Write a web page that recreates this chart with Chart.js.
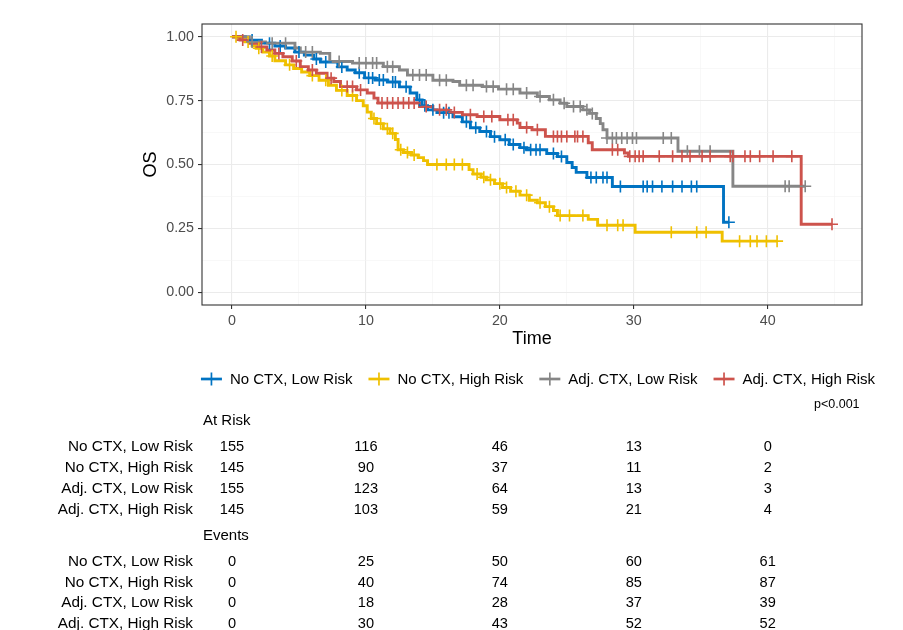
<!DOCTYPE html>
<html><head><meta charset="utf-8">
<script src="https://cdn.jsdelivr.net/npm/chart.js@4.4.1/dist/chart.umd.min.js"></script>
<style>html,body{margin:0;padding:0;background:#fff;}#wrap{width:903px;height:630px;}</style>
</head><body><div id="wrap"><canvas id="c" width="903" height="630"></canvas></div>
<script>
const FONT = '"Liberation Sans", Arial, Helvetica, sans-serif';

const groupNames = ['No CTX, Low Risk', 'No CTX, High Risk', 'Adj. CTX, Low Risk', 'Adj. CTX, High Risk'];
const groupColors = ['#0073C2', '#EFC000', '#868686', '#CD534C'];

// Kaplan-Meier step data (event times and survival after each step)
const timesNoCtxLow = [0, 1.0, 2.2, 3.2, 4.0, 4.7, 5.4, 6.1, 6.6, 7.9, 8.6, 9.2, 9.9, 10.7, 11.6, 12.5, 13.3, 13.8, 14.2, 14.6, 15.3, 16.5, 17.2, 17.8, 18.5, 19.3, 20.0, 20.7, 21.5, 22.0, 23.5, 24.3, 25.0, 25.4, 25.7, 26.5, 28.4, 36.7];
const survNoCtxLow  = [1, 0.987, 0.975, 0.964, 0.956, 0.94, 0.928, 0.913, 0.901, 0.882, 0.87, 0.859, 0.839, 0.831, 0.823, 0.804, 0.78, 0.753, 0.73, 0.714, 0.703, 0.687, 0.667, 0.644, 0.629, 0.609, 0.597, 0.578, 0.566, 0.558, 0.543, 0.531, 0.508, 0.488, 0.469, 0.449, 0.414, 0.274];
const censorNoCtxLow = [1.5, 2.8, 3.6, 5.0, 6.3, 7.0, 8.2, 9.5, 10.2, 10.5, 11.0, 11.3, 12.0, 12.2, 13.0, 14.0, 14.4, 15.0, 15.8, 16.2, 17.5, 18.2, 19.0, 19.6, 20.4, 21.0, 21.8, 22.3, 22.7, 23.0, 24.0, 24.6, 26.8, 27.2, 27.7, 28.0, 29.0, 30.7, 31.0, 31.4, 32.1, 32.9, 33.6, 34.3, 34.7, 37.1];

const timesNoCtxHigh = [0, 0.5, 1.0, 1.5, 1.8, 2.3, 2.8, 3.2, 4.0, 4.6, 5.2, 5.8, 6.5, 7.2, 7.8, 8.6, 9.3, 9.8, 10.1, 10.4, 10.8, 11.3, 11.8, 12.2, 12.4, 12.8, 13.4, 13.9, 14.3, 14.6, 17.7, 18.0, 18.6, 19.0, 19.6, 20.2, 20.8, 21.5, 22.2, 22.8, 23.4, 24.0, 24.3, 26.6, 27.3, 30.1, 36.6];
const survNoCtxHigh  = [1, 0.99, 0.98, 0.965, 0.955, 0.94, 0.925, 0.906, 0.89, 0.876, 0.862, 0.848, 0.83, 0.81, 0.79, 0.77, 0.75, 0.73, 0.705, 0.68, 0.66, 0.64, 0.622, 0.598, 0.558, 0.547, 0.537, 0.527, 0.515, 0.5, 0.48, 0.463, 0.45, 0.44, 0.425, 0.41, 0.395, 0.38, 0.36, 0.35, 0.335, 0.32, 0.30, 0.285, 0.262, 0.235, 0.20];
const censorNoCtxHigh = [0.3, 1.2, 2.0, 3.0, 4.3, 6.0, 7.0, 8.2, 9.0, 10.6, 11.1, 11.6, 12.0, 12.6, 13.1, 13.6, 15.3, 16.0, 16.6, 17.2, 18.3, 18.8, 19.3, 20.0, 20.5, 21.2, 22.0, 23.0, 23.7, 24.5, 25.2, 26.2, 28.0, 28.8, 29.2, 32.8, 34.7, 35.4, 37.9, 38.7, 39.2, 39.9, 40.7];

const timesAdjLow = [0, 1.3, 2.5, 4.7, 5.1, 6.6, 7.3, 9.0, 11.3, 12.5, 13.1, 15.0, 16.5, 17.0, 18.7, 19.9, 21.5, 22.8, 23.7, 24.5, 25.0, 26.2, 26.7, 27.2, 27.5, 27.7, 28.0, 33.3, 37.4];
const survAdjLow  = [1, 0.98, 0.975, 0.956, 0.94, 0.935, 0.903, 0.897, 0.883, 0.87, 0.85, 0.83, 0.825, 0.81, 0.805, 0.795, 0.78, 0.766, 0.753, 0.74, 0.727, 0.714, 0.70, 0.68, 0.66, 0.636, 0.604, 0.552, 0.415];
const censorAdjLow = [1.5, 3.0, 4.0, 5.5, 6.0, 8.0, 9.5, 10.0, 10.5, 10.8, 11.6, 12.0, 13.5, 14.0, 14.5, 15.5, 16.0, 17.5, 18.0, 19.0, 19.5, 20.5, 21.0, 22.0, 23.0, 24.0, 24.8, 25.5, 26.0, 26.5, 26.9, 28.0, 28.4, 28.7, 29.1, 29.5, 29.9, 30.2, 32.2, 32.8, 34.0, 34.9, 35.7, 41.3, 41.6, 42.8];

const timesAdjHigh = [0, 0.6, 1.3, 2.0, 2.6, 3.2, 3.8, 4.5, 5.1, 5.7, 6.3, 7.1, 7.6, 8.1, 9.3, 10.1, 10.6, 10.9, 14.0, 15.0, 16.2, 17.2, 18.3, 20.0, 21.3, 21.5, 22.4, 23.4, 26.6, 26.9, 29.3, 29.6, 42.5];
const survAdjHigh  = [1, 0.987, 0.974, 0.96, 0.948, 0.935, 0.922, 0.905, 0.883, 0.87, 0.857, 0.838, 0.825, 0.805, 0.792, 0.78, 0.76, 0.741, 0.727, 0.714, 0.704, 0.695, 0.688, 0.675, 0.662, 0.645, 0.636, 0.61, 0.585, 0.558, 0.545, 0.532, 0.266];
const censorAdjHigh = [0.8, 2.2, 3.5, 4.8, 6.0, 7.4, 8.6, 9.0, 9.6, 11.2, 11.6, 12.0, 12.4, 12.8, 13.2, 13.6, 14.5, 15.5, 16.0, 16.6, 17.8, 18.8, 19.4, 20.6, 21.0, 22.0, 22.8, 24.0, 24.3, 24.6, 25.0, 25.6, 25.8, 26.2, 28.4, 28.8, 29.7, 30.1, 30.4, 30.7, 31.9, 32.9, 33.6, 34.2, 35.1, 35.7, 37.2, 37.4, 38.3, 38.7, 39.4, 40.4, 41.8, 44.8];

// Axis ticks
const xMajorTicks = [0, 10, 20, 30, 40];
const xMinorTicks = [5, 15, 25, 35, 45];
const yMajorTicks = [0, 0.25, 0.5, 0.75, 1];
const yMinorTicks = [0.125, 0.375, 0.625, 0.875];
const yTickLabels = ['0.00', '0.25', '0.50', '0.75', '1.00'];

// Risk tables
const tableTimes = [0, 10, 20, 30, 40];
const atRiskNoCtxLow   = [155, 116, 46, 13, 0];
const atRiskNoCtxHigh  = [145, 90, 37, 11, 2];
const atRiskAdjLow     = [155, 123, 64, 13, 3];
const atRiskAdjHigh    = [145, 103, 59, 21, 4];
const eventsNoCtxLow   = [0, 25, 50, 60, 61];
const eventsNoCtxHigh  = [0, 40, 74, 85, 87];
const eventsAdjLow     = [0, 18, 28, 37, 39];
const eventsAdjHigh    = [0, 30, 43, 52, 52];
const pValueText = 'p<0.001';

const series = [
  {t: timesNoCtxLow, s: survNoCtxLow, c: censorNoCtxLow},
  {t: timesNoCtxHigh, s: survNoCtxHigh, c: censorNoCtxHigh},
  {t: timesAdjLow, s: survAdjLow, c: censorAdjLow},
  {t: timesAdjHigh, s: survAdjHigh, c: censorAdjHigh}
];
const atRiskRows = [atRiskNoCtxLow, atRiskNoCtxHigh, atRiskAdjLow, atRiskAdjHigh];
const eventRows = [eventsNoCtxLow, eventsNoCtxHigh, eventsAdjLow, eventsAdjHigh];

function stepValue(times, surv, t) {
  let v = surv[0];
  for (let i = 0; i < times.length; i++) if (times[i] <= t) v = surv[i];
  return v;
}

const datasets = [];
series.forEach((g, i) => {
  const pts = g.t.map((t, k) => ({x: t, y: g.s[k]}));
  const endT = Math.max(...g.c);
  pts.push({x: endT, y: g.s[g.s.length - 1]});
  datasets.push({
    label: groupNames[i], data: pts, showLine: true, stepped: true,
    borderColor: groupColors[i], borderWidth: 2.9, pointRadius: 0,
    borderJoinStyle: 'miter', borderCapStyle: 'butt', order: 10 - i
  });
});
series.forEach((g, i) => {
  datasets.push({
    label: groupNames[i] + ' censor',
    data: g.c.map(t => ({x: t, y: stepValue(g.t, g.s, t)})),
    showLine: false, pointStyle: 'cross', pointRadius: 6,
    borderColor: groupColors[i], borderWidth: 1.6, order: 5 - i
  });
});

const isMajorX = v => xMajorTicks.includes(v);
const isMajorY = v => yMajorTicks.some(m => Math.abs(m - v) < 1e-9);

const overlay = {
  id: 'overlay',
  afterDraw(chart) {
    const {ctx, chartArea: a, scales: {x}} = chart;
    ctx.save();
    // panel border
    ctx.strokeStyle = '#333333';
    ctx.lineWidth = 1.1;
    ctx.strokeRect(a.left, a.top, a.right - a.left, a.bottom - a.top);

    // legend
    ctx.font = '15px ' + FONT;
    ctx.textBaseline = 'middle';
    ctx.fillStyle = '#000';
    const keyW = 21, gapKT = 8, gapItem = 16, ly = 379;
    const widths = groupNames.map(n => ctx.measureText(n).width);
    const total = widths.reduce((s, w) => s + keyW + gapKT + w, 0) + gapItem * (groupNames.length - 1);
    let lx = 538 - total / 2;
    groupNames.forEach((n, i) => {
      ctx.strokeStyle = groupColors[i];
      ctx.lineWidth = 2.7;
      ctx.beginPath(); ctx.moveTo(lx, ly); ctx.lineTo(lx + keyW, ly); ctx.stroke();
      ctx.lineWidth = 1.7;
      ctx.beginPath(); ctx.moveTo(lx + keyW / 2, ly - 6.5); ctx.lineTo(lx + keyW / 2, ly + 6.5); ctx.stroke();
      ctx.textAlign = 'left';
      ctx.fillText(n, lx + keyW + gapKT, ly + 1);
      lx += keyW + gapKT + widths[i] + gapItem;
    });

    // p-value
    ctx.font = '12.5px ' + FONT;
    ctx.textAlign = 'left';
    ctx.fillText(pValueText, 814, 405);

    // tables
    const drawTable = (title, titleY, rows, rowY) => {
      ctx.font = '15px ' + FONT;
      ctx.textAlign = 'left';
      ctx.fillText(title, 203, titleY);
      rows.forEach((r, i) => {
        ctx.font = '15.3px ' + FONT;
        ctx.textAlign = 'right';
        ctx.fillText(groupNames[i], 193, rowY[i]);
        ctx.font = '14.6px ' + FONT;
        ctx.textAlign = 'center';
        r.forEach((v, j) => ctx.fillText(String(v), x.getPixelForValue(tableTimes[j]), rowY[i]));
      });
    };
    drawTable('At Risk', 421, atRiskRows, [447, 468, 489, 510]);
    drawTable('Events', 536, eventRows, [562, 583, 603, 624]);
    ctx.restore();
  }
};

new Chart(document.getElementById('c'), {
  type: 'scatter',
  data: {datasets},
  plugins: [overlay],
  options: {
    responsive: false, animation: false, devicePixelRatio: 1,
    layout: {padding: {left: 136, top: 24, right: 41, bottom: 276}},
    plugins: {legend: {display: false}, tooltip: {enabled: false}},
    scales: {
      x: {
        type: 'linear', min: -2.24, max: 47.04,
        afterBuildTicks: s => { s.ticks = [...xMajorTicks, ...xMinorTicks].sort((p, q) => p - q).map(v => ({value: v})); },
        afterFit: s => { s.height = 49; },
        ticks: {autoSkip: false, maxRotation: 0, padding: 3, color: '#4d4d4d', font: {family: FONT, size: 14.3},
          callback: v => isMajorX(v) ? String(v) : ''},
        grid: {
          color: c => isMajorX(c.tick.value) ? '#ebebeb' : '#f4f4f4',
          lineWidth: c => isMajorX(c.tick.value) ? 1.1 : 0.6,
          tickColor: c => isMajorX(c.tick.value) ? '#333333' : 'rgba(0,0,0,0)',
          tickLength: 4, tickWidth: 1.1
        },
        border: {display: false},
        title: {display: true, text: 'Time', color: '#000', font: {family: FONT, size: 18}, padding: {top: 4, bottom: 4}}
      },
      y: {
        type: 'linear', min: -0.05, max: 1.05,
        afterBuildTicks: s => { s.ticks = [...yMajorTicks, ...yMinorTicks].sort((p, q) => p - q).map(v => ({value: v})); },
        afterFit: s => { s.width = 66; },
        ticks: {autoSkip: false, padding: 4, color: '#4d4d4d', font: {family: FONT, size: 14.3},
          callback: v => { const k = yMajorTicks.findIndex(m => Math.abs(m - v) < 1e-9); return k >= 0 ? yTickLabels[k] : ''; }},
        grid: {
          color: c => isMajorY(c.tick.value) ? '#ebebeb' : '#f4f4f4',
          lineWidth: c => isMajorY(c.tick.value) ? 1.1 : 0.6,
          tickColor: c => isMajorY(c.tick.value) ? '#333333' : 'rgba(0,0,0,0)',
          tickLength: 4, tickWidth: 1.1
        },
        border: {display: false},
        title: {display: true, text: 'OS', color: '#000', font: {family: FONT, size: 18}, padding: {top: 4, bottom: 4}}
      }
    }
  }
});
</script>
</body></html>
